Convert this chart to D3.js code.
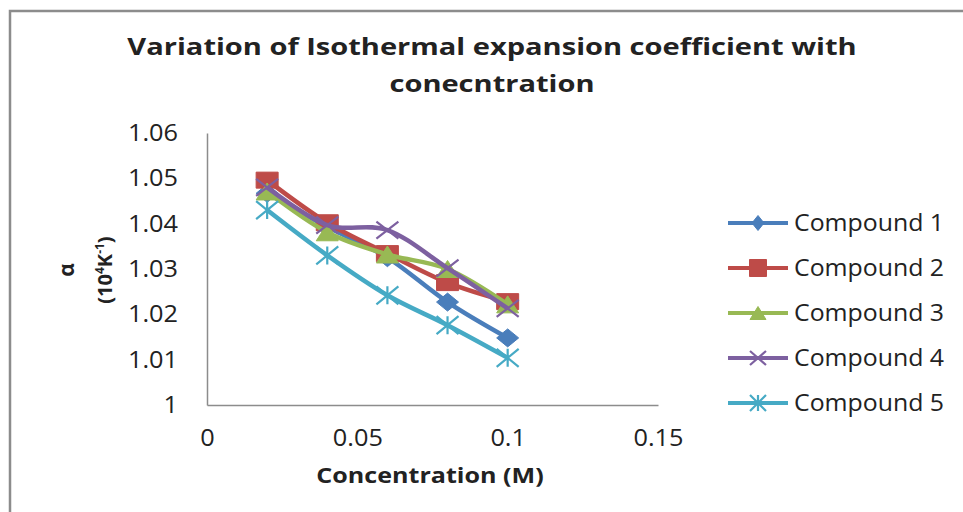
<!DOCTYPE html>
<html lang="en">
<head>
<meta charset="UTF-8">
<title>Isothermal expansion coefficient</title>
<style>
  body { margin: 0; background: #fff; }
  text { font-family: "Open Sans", "Liberation Sans", sans-serif; fill: #222; }
</style>
</head>
<body>
<div id="chart"></div>
<script src="https://d3js.org/d3.v7.min.js"></script>
<script>
const width = 963
const height = 512

// data
const concentrations = [0.02, 0.04, 0.06, 0.08, 0.1]
const seriesNames = ['Compound 1', 'Compound 2', 'Compound 3', 'Compound 4', 'Compound 5']
const compound1 = [1.0467, 1.0393, 1.0325, 1.0227, 1.0148]
const compound2 = [1.0496, 1.0402, 1.0334, 1.0270, 1.0228]
const compound3 = [1.0471, 1.0381, 1.0332, 1.0300, 1.0222]
const compound4 = [1.0480, 1.0397, 1.0386, 1.0302, 1.0213]
const compound5 = [1.0430, 1.0330, 1.0242, 1.0176, 1.0104]
const xTicks = [0, 0.05, 0.1, 0.15]
const yTicks = [1, 1.01, 1.02, 1.03, 1.04, 1.05, 1.06]
const colors = ['#4a7ebb', '#be4b48', '#98b954', '#7d60a0', '#46aac5']
const markers = ['diamond', 'square', 'triangle', 'x', 'star']

const allSeries = [compound1, compound2, compound3, compound4, compound5]

const plot = { left: 207, right: 658, top: 133, bottom: 405 }

// the source picture is a bit wider than tall, so text is drawn stretched
function widen(sel, k) {
  sel.each(function () {
    const len = this.getComputedTextLength()
    d3.select(this).attr('textLength', len * k).attr('lengthAdjust', 'spacingAndGlyphs')
  })
}

const svg = d3.select('#chart')
  .append('svg')
  .attr('width', width)
  .attr('height', height)

// outer frame (only left and top edges are visible)
svg.append('path')
  .attr('d', `M10,${height} L10,11 L${width},11`)
  .attr('fill', 'none')
  .attr('stroke', '#8c8c8c')
  .attr('stroke-width', 2.5)

const x = d3.scaleLinear().domain([0, 0.15]).range([plot.left, plot.right])
const y = d3.scaleLinear().domain([1, 1.06]).range([plot.bottom, plot.top])

const xAxis = svg.append('g')
  .attr('transform', `translate(0,${plot.bottom})`)
  .call(d3.axisBottom(x).tickValues(xTicks).tickSize(0).tickPadding(25).tickFormat(d => d3.format('')(d)))
const yAxis = svg.append('g')
  .attr('transform', `translate(${plot.left},0)`)
  .call(d3.axisLeft(y).tickValues(yTicks).tickSize(0).tickPadding(29).tickFormat(d => d3.format('')(+d.toFixed(2))))

for (const ax of [xAxis, yAxis]) {
  ax.select('.domain').attr('stroke', '#8c8c8c').attr('stroke-width', 1.5)
  ax.selectAll('text')
    .attr('font-size', 23)
    .attr('font-family', '"Open Sans", sans-serif')
    .attr('fill', '#404040')
    .call(widen, 1.1)
}

// marker shapes, w/h are the full size
function markerPath(type, w, h) {
  const a = w / 2, b = h / 2
  switch (type) {
    case 'diamond': return `M0,${-b}L${a},0L0,${b}L${-a},0Z`
    case 'square': return `M${-a},${-b}H${a}V${b}H${-a}Z`
    case 'triangle': return `M0,${-b}L${a},${b}L${-a},${b}Z`
    case 'x': return `M${-a},${-b}L${a},${b}M${a},${-b}L${-a},${b}`
    case 'star': return `M${-a},${-b}L${a},${b}M${a},${-b}L${-a},${b}M0,${-b}V${b}`
  }
}

function drawMarker(g, type, color, w, h) {
  const open = type === 'x' || type === 'star'
  g.append('path')
    .attr('d', markerPath(type, w, h))
    .attr('fill', open ? 'none' : color)
    .attr('stroke', color)
    .attr('stroke-width', open ? 2.2 : 1)
}

const line = d3.line()
  .x((d, i) => x(concentrations[i]))
  .y(d => y(d))
  .curve(d3.curveCardinal.tension(0))

const markerSize = {
  diamond: [22, 18], square: [22, 16], triangle: [22, 17], x: [22, 17], star: [22, 18]
}

allSeries.forEach((vals, s) => {
  const g = svg.append('g')
  g.append('path')
    .attr('d', line(vals))
    .attr('fill', 'none')
    .attr('stroke', colors[s])
    .attr('stroke-width', 4.5)
    .attr('stroke-linejoin', 'round')
  vals.forEach((v, i) => {
    const m = g.append('g').attr('transform', `translate(${x(concentrations[i])},${y(v)})`)
    const [w, h] = markerSize[markers[s]]
    drawMarker(m, markers[s], colors[s], w, h)
  })
})

// legend
const legendSize = {
  diamond: [12, 15], square: [17, 17], triangle: [16, 13], x: [16, 14], star: [16, 16]
}
const legend = svg.append('g')
seriesNames.forEach((name, s) => {
  const cy = 223 + s * 45
  legend.append('line')
    .attr('x1', 728).attr('x2', 788)
    .attr('y1', cy).attr('y2', cy)
    .attr('stroke', colors[s])
    .attr('stroke-width', 4)
  const m = legend.append('g').attr('transform', `translate(758,${cy})`)
  const [w, h] = legendSize[markers[s]]
  drawMarker(m, markers[s], colors[s], w, h)
  legend.append('text')
    .attr('x', 794)
    .attr('y', cy)
    .attr('dy', '0.36em')
    .attr('font-size', 23)
    .attr('fill', '#333')
    .text(name)
    .call(widen, 1.08)
})

// title
const titleLines = ['Variation of Isothermal expansion coefficient with', 'conecntration']
titleLines.forEach((t, i) => {
  svg.append('text')
    .attr('x', 492)
    .attr('y', 55 + i * 37)
    .attr('text-anchor', 'middle')
    .attr('font-size', 24)
    .attr('font-weight', 'bold')
    .attr('fill', '#111')
    .text(t)
    .call(widen, 1.21)
})

// x axis title
svg.append('text')
  .attr('x', 430)
  .attr('y', 483)
  .attr('text-anchor', 'middle')
  .attr('font-size', 22)
  .attr('font-weight', 'bold')
  .attr('fill', '#111')
  .text('Concentration (M)')
  .call(widen, 1.14)

// y axis title
const yTitle = svg.append('g').attr('transform', 'translate(74,270) rotate(-90)')
yTitle.append('text')
  .attr('text-anchor', 'middle')
  .attr('font-size', 21)
  .attr('font-weight', 'bold')
  .attr('fill', '#111')
  .text('α')
const unit = yTitle.append('text')
  .attr('y', 38)
  .attr('text-anchor', 'middle')
  .attr('font-size', 20)
  .attr('font-weight', 'bold')
  .attr('fill', '#111')
unit.append('tspan').text('(10')
unit.append('tspan').attr('font-size', 12).attr('dy', -8).text('4')
unit.append('tspan').attr('dy', 8).text('K')
unit.append('tspan').attr('font-size', 12).attr('dy', -8).text('-1')
unit.append('tspan').attr('dy', 8).text(')')
</script>
</body>
</html>
